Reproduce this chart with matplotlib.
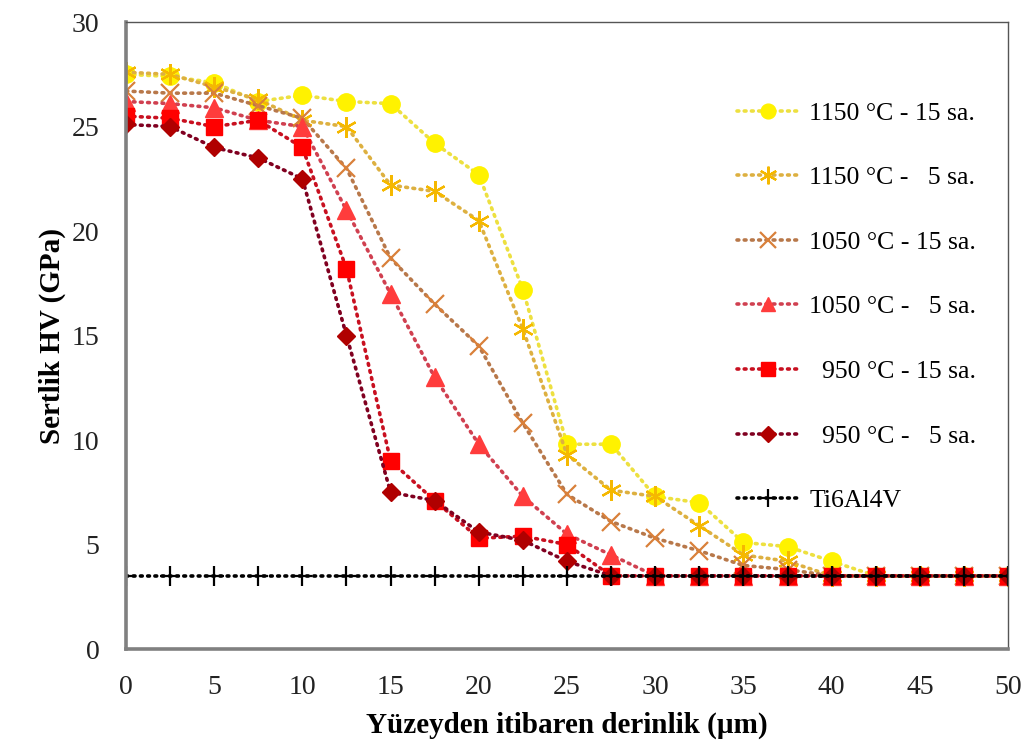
import numpy as np
import matplotlib.pyplot as plt

plt.rcParams['font.family'] = ['Liberation Serif', 'DejaVu Serif']

# depth from the surface (um)
depth = [0, 2.5, 5, 7.5, 10, 12.5, 15, 17.5, 20, 22.5, 25,
         27.5, 30, 32.5, 35, 37.5, 40, 42.5, 45, 47.5, 50]

hv_1150_15 = [27.5, 27.4, 27.1, 26.2, 26.5, 26.2, 26.1, 24.2, 22.7, 17.2, 9.8,
              9.8, 7.3, 7.0, 5.1, 4.9, 4.2, 3.5, 3.5, 3.5, 3.5]
hv_1150_5 = [27.6, 27.5, 26.9, 26.3, 25.3, 25.0, 22.2, 21.9, 20.5, 15.3, 9.3,
             7.6, 7.3, 5.9, 4.5, 4.2, 3.5, 3.5, 3.5, 3.5, 3.5]
hv_1050_15 = [26.7, 26.6, 26.6, 26.0, 25.4, 23.0, 18.7, 16.5, 14.5, 10.8, 7.4,
              6.1, 5.3, 4.7, 4.0, 3.8, 3.5, 3.5, 3.5, 3.5, 3.5]
hv_1050_5 = [26.2, 26.1, 25.9, 25.3, 25.0, 21.0, 17.0, 13.0, 9.8, 7.3, 5.5,
             4.5, 3.5, 3.5, 3.5, 3.5, 3.5, 3.5, 3.5, 3.5, 3.5]
hv_950_15 = [25.5, 25.4, 25.0, 25.3, 24.0, 18.2, 9.0, 7.1, 5.3, 5.4, 5.0,
             3.5, 3.5, 3.5, 3.5, 3.5, 3.5, 3.5, 3.5, 3.5, 3.5]
hv_950_5 = [25.1, 25.0, 24.0, 23.5, 22.5, 15.0, 7.5, 7.1, 5.6, 5.2, 4.2,
            3.5, 3.5, 3.5, 3.5, 3.5, 3.5, 3.5, 3.5, 3.5, 3.5]
hv_ti6al4v = [3.5] * 21

labels = ['1150 °C - 15 sa.', '1150 °C -   5 sa.', '1050 °C - 15 sa.',
          '1050 °C -   5 sa.', '  950 °C - 15 sa.', '  950 °C -   5 sa.', 'Ti6Al4V']
series = [hv_1150_15, hv_1150_5, hv_1050_15, hv_1050_5, hv_950_15, hv_950_5, hv_ti6al4v]

# marker colour, line colour, marker, size, edge width
styles = [
    ('#FFF200', '#EDE040', 'o', 12.5, 1.0),
    ('#F5B800', '#DDB040', (6, 2, 0), 15, 1.6),
    ('#D9803A', '#B8784A', 'x', 13, 1.6),
    ('#FF3C3C', '#D04050', '^', 12.5, 1.0),
    ('#FF0000', '#C81020', 's', 12, 1.0),
    ('#B00000', '#800020', 'D', 9, 1.0),
    ('#000000', '#000000', '+', 15, 1.6),
]

fig = plt.figure(figsize=(10.36, 7.49), dpi=100)
ax = fig.add_axes([0.1216, 0.1335, 0.8514, 0.837])

for vals, lab, (mcol, lcol, mk, ms, mew) in zip(series, labels, styles):
    ax.plot(depth, vals, linestyle=(0, (0.5, 1.5)), dash_capstyle='round', lw=2.6,
            color=lcol, marker=mk, markersize=ms, markeredgewidth=mew,
            markeredgecolor=mcol, markerfacecolor=mcol, label=lab)

ax.set_xlim(0, 50)
ax.set_ylim(0, 30)
ax.set_xticks(np.arange(0, 51, 5))
ax.set_yticks(np.arange(0, 31, 5))
ax.tick_params(length=0, labelsize=20, colors='#222222')
ax.tick_params(axis='x', pad=19)
ax.tick_params(axis='y', pad=19)

for side in ['left', 'bottom']:
    ax.spines[side].set_color('#808080')
    ax.spines[side].set_linewidth(2.6)
for side in ['top', 'right']:
    ax.spines[side].set_color('#555555')
    ax.spines[side].set_linewidth(1.0)

ax.set_xlabel('Yüzeyden itibaren derinlik (µm)', fontsize=21, fontweight='bold', labelpad=8)
ax.set_ylabel('Sertlik HV (GPa)', fontsize=21, fontweight='bold', labelpad=4)

ax.legend(loc='upper left', bbox_to_anchor=(0.667, 0.91), frameon=False,
          fontsize=18.5, labelspacing=1.62, handlelength=2.4, handletextpad=0.4,
          markerscale=0.85)

fig.savefig('out.png', dpi=100)
